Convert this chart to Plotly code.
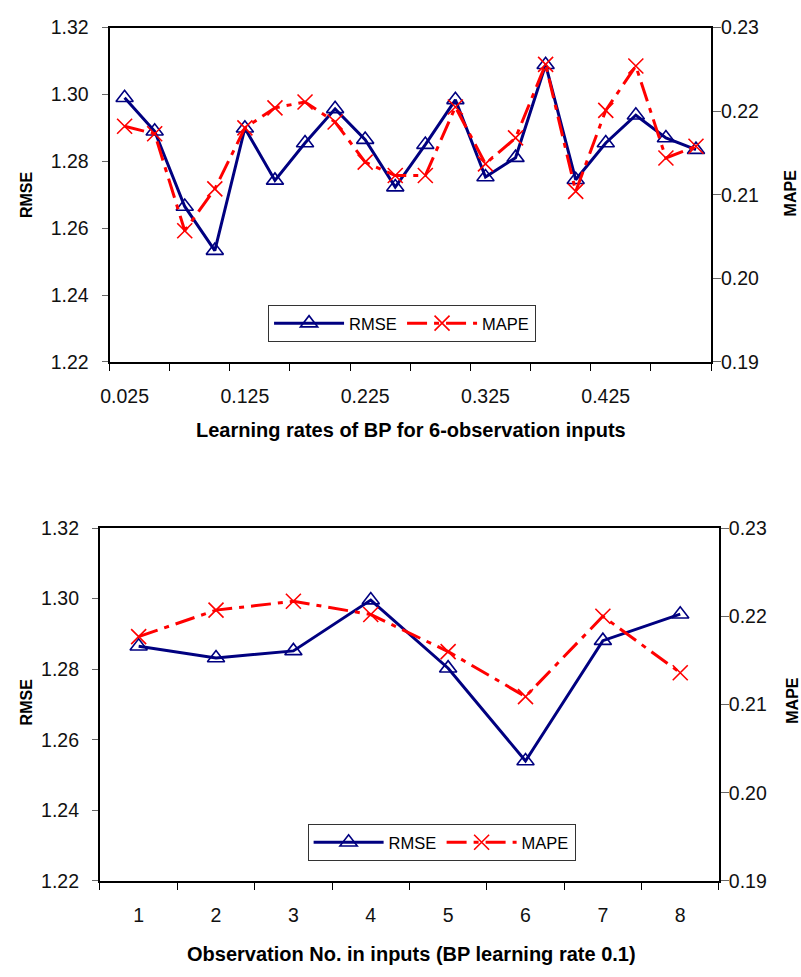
import plotly.graph_objects as go

# --- data -----------------------------------------------------------------
rates = [0.025, 0.05, 0.075, 0.1, 0.125, 0.15, 0.175, 0.2, 0.225, 0.25,
         0.275, 0.3, 0.325, 0.35, 0.375, 0.4, 0.425, 0.45, 0.475, 0.5]
rmse_rate = [1.2990, 1.2890, 1.2665, 1.2533, 1.2899, 1.2743, 1.2855, 1.2957,
             1.2865, 1.2723, 1.2850, 1.2984, 1.2753, 1.2811, 1.3089, 1.2745,
             1.2855, 1.2938, 1.2870, 1.2835]
mape_rate = [0.2182, 0.2173, 0.2057, 0.2107, 0.2180, 0.2204, 0.2211, 0.2187,
             0.2139, 0.2123, 0.2123, 0.2205, 0.2137, 0.2168, 0.2256, 0.2104,
             0.2201, 0.2254, 0.2144, 0.2158]
rate_labels = ["0.025", "0.125", "0.225", "0.325", "0.425"]

obs = [1, 2, 3, 4, 5, 6, 7, 8]
rmse_obs = [1.2865, 1.2832, 1.2852, 1.2996, 1.2803, 1.2540, 1.2881, 1.2956]
mape_obs = [0.2177, 0.2207, 0.2217, 0.2202, 0.2160, 0.2109, 0.2200, 0.2136]
obs_labels = ["1", "2", "3", "4", "5", "6", "7", "8"]

# --- styling ----------------------------------------------------------------
W, H = 801, 977
FONT = "Liberation Sans, Arial, sans-serif"
NAVY = "#000080"
RED = "#FF0000"
TICK_FONT = dict(family=FONT, size=19.5, color="#111")

def px_x(a, b):
    return [a / W, b / W]

def px_y(top, bottom):
    return [1 - bottom / H, 1 - top / H]

# category spacing for the learning-rate axis
step = rates[1] - rates[0]
rate_bounds = [r - step / 2 for r in rates[::2]] + [rates[-1] + step / 2]
rate_ticks = [float(t) for t in rate_labels]
obs_bounds = [o - 0.5 for o in obs] + [obs[-1] + 0.5]

fig = go.Figure()

def add_pair(x, rmse, mape, xa, ya_left, ya_right, legend):
    fig.add_trace(go.Scatter(
        x=x, y=rmse, name="RMSE", mode="lines+markers",
        xaxis=xa, yaxis=ya_left, legend=legend,
        line=dict(color=NAVY, width=3),
        marker=dict(symbol="triangle-up-open", size=15, color=NAVY,
                    line=dict(color=NAVY, width=1.6)),
    ))
    fig.add_trace(go.Scatter(
        x=x, y=mape, name="MAPE", mode="lines+markers",
        xaxis=xa, yaxis=ya_right, legend=legend,
        line=dict(color=RED, width=3, dash="20px,7px,5px,7px"),
        marker=dict(symbol="x-thin-open", size=15, color=RED,
                    line=dict(color=RED, width=1.6)),
    ))

add_pair(rates, rmse_rate, mape_rate, "x", "y", "y2", "legend")
add_pair(obs, rmse_obs, mape_obs, "x2", "y3", "y4", "legend2")

line_common = dict(showline=True, linecolor="black", linewidth=2,
                   showgrid=False, zeroline=False, tickfont=TICK_FONT)

def x_axis(domain, anchor, rng, tickvals, ticktext, bounds):
    return dict(
        domain=domain, anchor=anchor, range=rng, mirror=True,
        tickmode="array", tickvals=tickvals, ticktext=ticktext,
        ticks="", ticklabelstandoff=16,
        minor=dict(ticks="outside", ticklen=7, tickcolor="black",
                   tickwidth=1, tickmode="array", tickvals=bounds,
                   showgrid=False),
        **line_common,
    )

def y_left(domain, anchor):
    return dict(domain=domain, anchor=anchor, range=[1.22, 1.32],
                tickmode="linear", tick0=1.22, dtick=0.02, tickformat=".2f",
                ticks="outside", ticklen=6, tickcolor="#666", tickwidth=1,
                ticklabelstandoff=9, **line_common)

def y_right(anchor, overlay, ticks, show_labels):
    return dict(anchor=anchor, overlaying=overlay, side="right",
                range=[0.19, 0.23], tickmode="linear", tick0=0.19,
                dtick=0.01, tickformat=".2f",
                ticks=ticks, ticklen=8, tickcolor="#666", tickwidth=1,
                showticklabels=show_labels, ticklabelstandoff=-4,
                **line_common)

top_x = px_x(101.7, 710)
top_y = px_y(17, 359)
bot_x = px_x(92, 718)
bot_y = px_y(529, 890)

legend_common = dict(orientation="h", xanchor="left", yanchor="top",
                     bordercolor="#333", borderwidth=1, bgcolor="white",
                     itemwidth=70, entrywidth=48,
                     font=dict(family=FONT, size=16.5))

fig.update_layout(
    width=W, height=H,
    margin=dict(l=0, r=0, t=0, b=0),
    paper_bgcolor="white", plot_bgcolor="white",
    font=dict(family=FONT, color="black"),
    xaxis=x_axis(top_x, "y", [rates[0] - step / 2, rates[-1] + step / 2],
                 rate_ticks, rate_labels, rate_bounds),
    yaxis=y_left(top_y, "x"),
    yaxis2=y_right("x", "y", "outside", True),
    yaxis5=y_right("x", "y", "inside", False),
    xaxis2=x_axis(bot_x, "y3", [obs[0] - 0.5, obs[-1] + 0.5],
                  obs, obs_labels, obs_bounds),
    yaxis3=y_left(bot_y, "x2"),
    yaxis4=y_right("x2", "y3", "outside", True),
    yaxis6=y_right("x2", "y3", "inside", False),
    legend=dict(x=262 / W, y=1 - 300.7 / H, **legend_common),
    legend2=dict(x=302 / W, y=1 - 831.7 / H, **legend_common),
)

TITLE_FONT = dict(family=FONT, size=20, color="black")
Y_TITLE_FONT = dict(family=FONT, size=16, color="black")

def title(text, x, y, font, angle=0):
    fig.add_annotation(text=f"<b>{text}</b>", xref="paper", yref="paper",
                       x=x / W, y=1 - y / H, xanchor="center",
                       yanchor="middle", showarrow=False, font=font,
                       textangle=angle)

title("Learning rates of BP for 6-observation inputs", 406.5, 429, TITLE_FONT)
title("Observation No. in inputs (BP learning rate 0.1)", 407.5, 965, TITLE_FONT)
title("RMSE", 17.5, 188, Y_TITLE_FONT, -90)
title("MAPE", 790.5, 186, Y_TITLE_FONT, -90)
title("RMSE", 17.5, 707, Y_TITLE_FONT, -90)
title("MAPE", 792.5, 705, Y_TITLE_FONT, -90)

fig.write_html("out.html")
